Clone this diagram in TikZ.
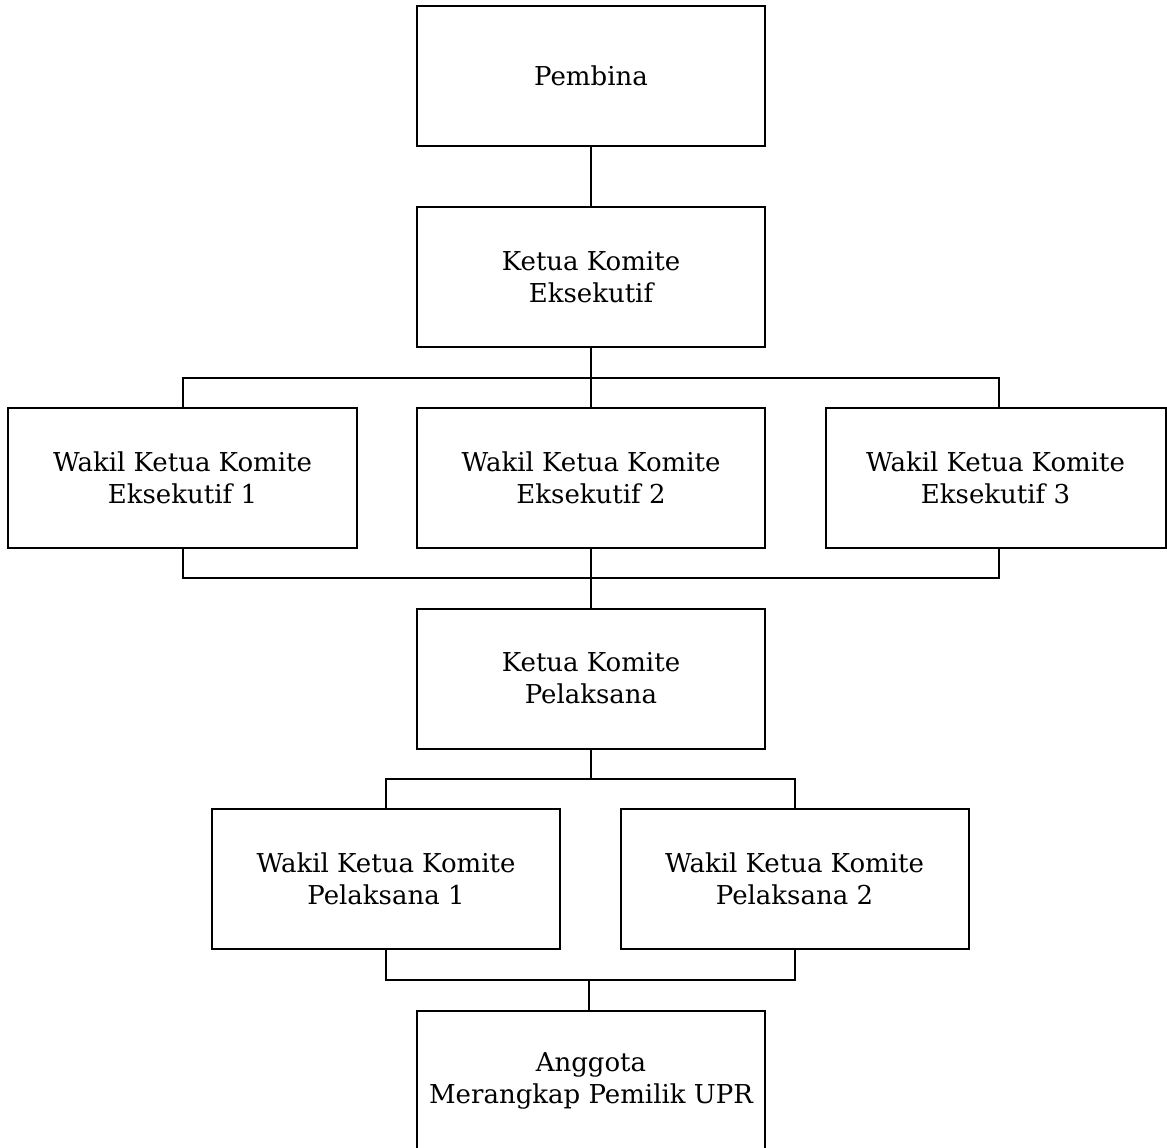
\documentclass[tikz,border=0pt]{standalone}
\usepackage{fontspec}
\setmainfont{DejaVu Serif}
\begin{document}
\begin{tikzpicture}[x=0.5pt,y=-0.5pt,
  box/.style={draw=black,line width=1pt,fill=white,align=center,inner sep=0pt,
    minimum width=174pt,minimum height=70pt,
    font=\fontsize{13}{16}\selectfont},
  conn/.style={draw=black,line width=1pt}]
\useasboundingbox (0,0) rectangle (1167,1147);
\clip (0,0) rectangle (1167,1147);
\node[box] (pem) at (591,76) {Pembina};
\node[box] (kke) at (591,277) {Ketua Komite\\Eksekutif};
\node[box,minimum width=174.5pt] (w1) at (182.5,478) {Wakil Ketua Komite\\Eksekutif 1};
\node[box] (w2) at (591,478) {Wakil Ketua Komite\\Eksekutif 2};
\node[box,minimum width=170pt] (w3) at (995.5,478) {Wakil Ketua Komite\\Eksekutif 3};
\node[box] (kkp) at (591,678.5) {Ketua Komite\\Pelaksana};
\node[box] (p1) at (386,879) {Wakil Ketua Komite\\Pelaksana 1};
\node[box] (p2) at (794.5,879) {Wakil Ketua Komite\\Pelaksana 2};
\node[box] (ang) at (591,1081) {Anggota\\Merangkap Pemilik UPR};
\coordinate (w3top) at (999,408);
\coordinate (w3bot) at (999,548);
\coordinate (bus1) at (591,378);
\coordinate (bus2) at (591,578);
\coordinate (bus3) at (591,779);
\coordinate (bus4) at (589,980);
\coordinate (angtop) at (589,1011);
\draw[conn] (pem.south) -- (kke.north);
\draw[conn] (kke.south) -- (bus1);
\draw[conn] (w1.north) |- (bus1) -| (w3top);
\draw[conn] (bus1) -- (w2.north);
\draw[conn] (w1.south) |- (bus2) -| (w3bot);
\draw[conn] (w2.south) -- (kkp.north);
\draw[conn] (kkp.south) -- (bus3);
\draw[conn] (p1.north) |- (bus3) -| (p2.north);
\draw[conn] (p1.south) |- (bus4) -| (p2.south);
\draw[conn] (bus4) -- (angtop);
\end{tikzpicture}
\end{document}
